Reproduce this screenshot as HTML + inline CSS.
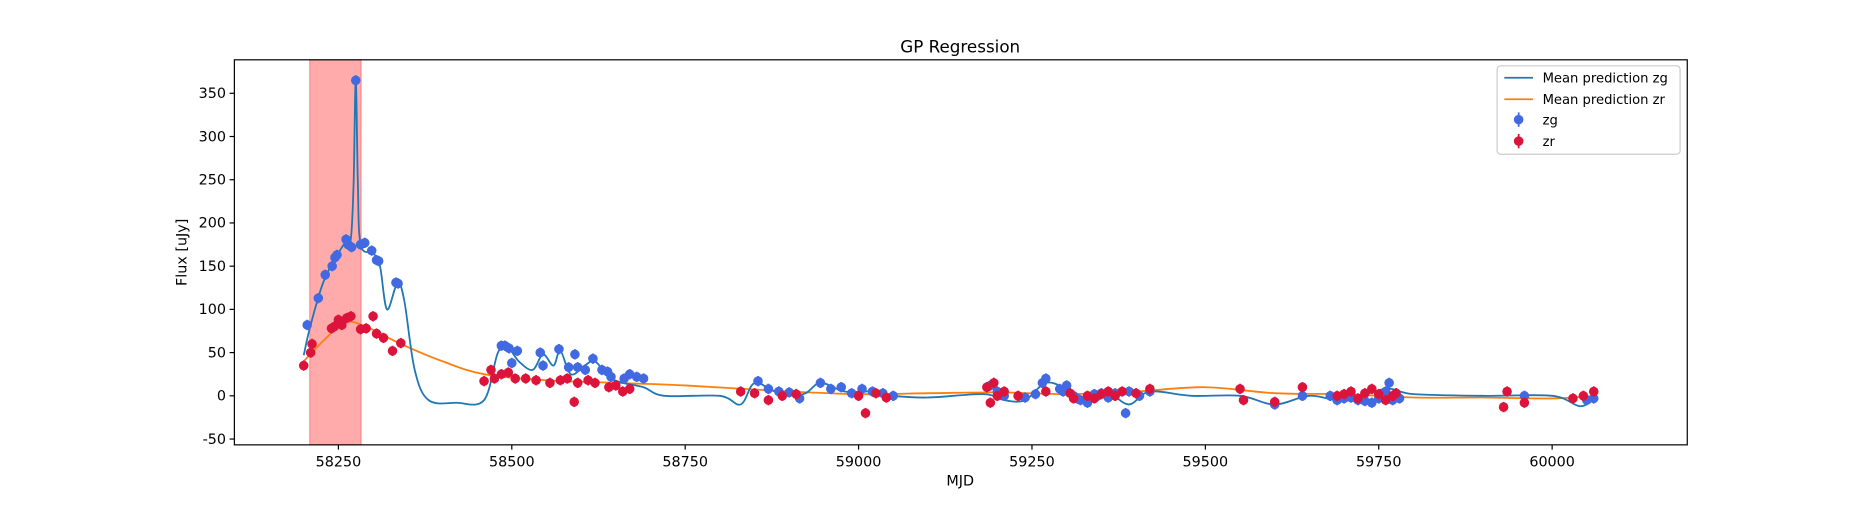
<!DOCTYPE html>
<html><head><meta charset="utf-8"><style>
body{margin:0;background:#fff;font-family:"Liberation Sans","DejaVu Sans",sans-serif}
svg text{font-family:"DejaVu Sans","Liberation Sans",sans-serif;fill:#000}
</style></head><body>
<svg id="chart" width="1875" height="500" viewBox="0 0 1568 418.1">
<rect width="1568" height="418.1" fill="#fff"/>
<text x="803" y="44" font-size="14" text-anchor="middle">GP Regression</text>
<g id="plot"></g>
<rect x="196" y="50" width="1215" height="322" fill="none" stroke="#000" stroke-width="1"/>
<g id="xticks"></g><g id="yticks"></g>
<text x="803" y="406" font-size="12" text-anchor="middle">MJD</text>
<text transform="translate(156,211) rotate(-90)" font-size="12" text-anchor="middle">Flux [uJy]</text>
<g>
<rect x="1252" y="55" width="153" height="74" rx="3" fill="#fff" stroke="#ccc"/>
<line x1="1258" y1="65" x2="1282" y2="65" stroke="#1f77b4" stroke-width="1.5"/>
<text x="1290" y="69" font-size="11">Mean prediction zg</text>
<line x1="1258" y1="83" x2="1282" y2="83" stroke="#ff7f0e" stroke-width="1.5"/>
<text x="1290" y="87" font-size="11">Mean prediction zr</text>
<circle cx="1270" cy="100" r="4" fill="#4169e1"/><line x1="1270" y1="94" x2="1270" y2="106" stroke="#4169e1" stroke-width="1.5"/>
<text x="1290" y="104" font-size="11">zg</text>
<circle cx="1270" cy="118" r="4" fill="#dc143c"/><line x1="1270" y1="112" x2="1270" y2="124" stroke="#dc143c" stroke-width="1.5"/>
<text x="1290" y="122" font-size="11">zr</text>
</g>
</svg>
<script>
const xTicks=[58250,58500,58750,59000,59250,59500,59750,60000];
const yTicks=[-50,0,50,100,150,200,250,300,350];
const spanRange=[58208.6,58282.8];
const zgMjd=[58205,58221,58231,58241,58245,58248,58261,58264,58269,58275,58282,58288,58298,58305,58308,58333,58336,58485,58490,58496,58500,58508,58541,58545,58568,58582,58591,58595,58606,58617,58630,58638,58643,58662,58670,58680,58690,58855,58870,58885,58900,58915,58945,58960,58975,58990,59005,59020,59035,59050,59190,59200,59210,59240,59255,59265,59270,59290,59300,59310,59320,59340,59350,59370,59385,59390,59405,59420,59600,59640,59690,59700,59720,59740,59760,59765,59780,59960,60050,60060,59295,59315,59330,59345,59360,59680,59710,59730,59750,59770];
const zgFlux=[82,113,140,150,160,163,181,175,172,365,175,177,168,157,156,131,130,58,58,55,38,52,50,35,54,33,48,33,30,43,30,28,22,20,25,22,20,17,8,5,4,-3,15,8,10,3,8,5,3,0,12,5,0,-2,2,15,20,8,12,0,-5,2,3,3,-20,5,0,5,-10,0,-5,-3,-5,-8,5,15,-3,0,-5,-3,5,-3,-8,0,-2,0,-2,-6,-3,-5];
const zrMjd=[58200,58210,58212,58240,58244,58250,58255,58262,58268,58282,58290,58300,58305,58315,58328,58340,58460,58470,58475,58485,58495,58505,58520,58535,58555,58570,58580,58590,58595,58610,58620,58640,58650,58660,58670,58830,58850,58870,58890,58910,59000,59010,59025,59040,59190,59195,59210,59230,59270,59310,59330,59350,59380,59400,59420,59550,59555,59600,59640,59700,59730,59770,59930,59935,59960,60030,60045,60060,59185,59200,59305,59340,59360,59370,59690,59710,59720,59740,59750,59760,59775];
const zrFlux=[35,50,60,78,80,88,82,90,92,77,78,92,72,67,52,61,17,30,20,25,27,20,20,18,15,18,20,-7,15,18,15,10,12,5,8,5,3,-5,0,2,0,-20,3,-2,-8,15,5,0,5,-3,0,2,5,3,8,8,-5,-7,10,2,3,0,-13,5,-8,-3,0,5,10,0,3,-3,5,0,0,5,-3,8,2,-5,3];
const zgMeanMjd=[58200,58210,58230,58260,58268,58272,58275,58278,58282,58300,58310,58320,58335,58345,58360,58380,58420,58460,58480,58495,58510,58530,58545,58560,58570,58585,58605,58620,58640,58660,58690,58720,58800,58830,58850,58880,58920,58945,58980,59020,59050,59100,59180,59210,59240,59270,59300,59330,59360,59390,59420,59480,59550,59600,59650,59700,59760,59800,59900,60000,60040,60060];
const zgMean=[47,82,135,178,182,250,365,250,175,165,150,100,130,110,30,-5,-8,-5,50,55,40,30,48,35,52,25,35,40,22,15,10,0,0,-10,15,5,2,15,5,5,0,-2,2,-5,-5,15,8,-5,3,-10,5,0,0,-10,0,-5,8,2,0,0,-12,-3];
const zrMeanMjd=[58200,58230,58260,58290,58340,58400,58460,58550,58650,58750,58900,59000,59100,59200,59300,59400,59500,59600,59700,59800,59900,60000,60060];
const zrMean=[40,65,85,80,60,40,25,18,15,12,5,2,3,4,2,5,10,3,2,-2,-2,-3,0];

const X=v=>283+(v-58250)*0.58;
const Y=v=>331-v*0.72286;
const NS="http://www.w3.org/2000/svg";
function mk(t,a,p){const e=document.createElementNS(NS,t);for(const k in a)e.setAttribute(k,a[k]);p.appendChild(e);return e;}
const plot=document.getElementById('plot');
const span=mk('rect',{x:X(spanRange[0]),y:50,width:X(spanRange[1])-X(spanRange[0]),height:322,fill:'#ff0000','fill-opacity':0.33,stroke:'#ff0000','stroke-opacity':0.3},plot);


function line(xs,ys,col,name){
  const P=xs.map((x,i)=>[X(x),Y(ys[i])]);
  let d='M'+P[0][0].toFixed(1)+' '+P[0][1].toFixed(1);
  for(let i=0;i<P.length-1;i++){
    const p0=P[Math.max(0,i-1)],p1=P[i],p2=P[i+1],p3=P[Math.min(P.length-1,i+2)];
    const c1=[p1[0]+(p2[0]-p0[0])/6,p1[1]+(p2[1]-p0[1])/6];
    const c2=[p2[0]-(p3[0]-p1[0])/6,p2[1]-(p3[1]-p1[1])/6];
    c1[0]=Math.min(Math.max(c1[0],p1[0]),p2[0]);c2[0]=Math.min(Math.max(c2[0],p1[0]),p2[0]);
    d+=' C'+c1.map(v=>v.toFixed(1)).join(' ')+' '+c2.map(v=>v.toFixed(1)).join(' ')+' '+p2[0].toFixed(1)+' '+p2[1].toFixed(1);
  }
  const p=mk('path',{d:d,fill:'none',stroke:col,'stroke-width':1.5,'stroke-linejoin':'round'},plot);
  
  
}
line(zrMeanMjd,zrMean,'#ff7f0e','mean-line-zr');
line(zgMeanMjd,zgMean,'#1f77b4','mean-line-zg');
function pts(xs,ys,col,name){
  xs.forEach((x,i)=>{
    const g=mk('g',{},plot);
    
    
    mk('line',{x1:X(x),x2:X(x),y1:Y(ys[i]+6),y2:Y(ys[i]-6),stroke:col,'stroke-width':1.5},g);
    mk('circle',{cx:X(x),cy:Y(ys[i]),r:4,fill:col},g);
  });
}
pts(zgMjd,zgFlux,'#4169e1','zg-point');
pts(zrMjd,zrFlux,'#dc143c','zr-point');
const xt=document.getElementById('xticks');
xTicks.forEach(v=>{
  mk('line',{x1:X(v),x2:X(v),y1:372,y2:376,stroke:'#000'},xt);
  const t=mk('text',{x:X(v),y:390,'font-size':12,'text-anchor':'middle'},xt);t.textContent=v;
  
  
});
const yt=document.getElementById('yticks');
yTicks.forEach(v=>{
  mk('line',{x1:192,x2:196,y1:Y(v),y2:Y(v),stroke:'#000'},yt);
  const t=mk('text',{x:189,y:Y(v)+4,'font-size':12,'text-anchor':'end'},yt);t.textContent=v;
  
  
});
</script>
</body></html>
